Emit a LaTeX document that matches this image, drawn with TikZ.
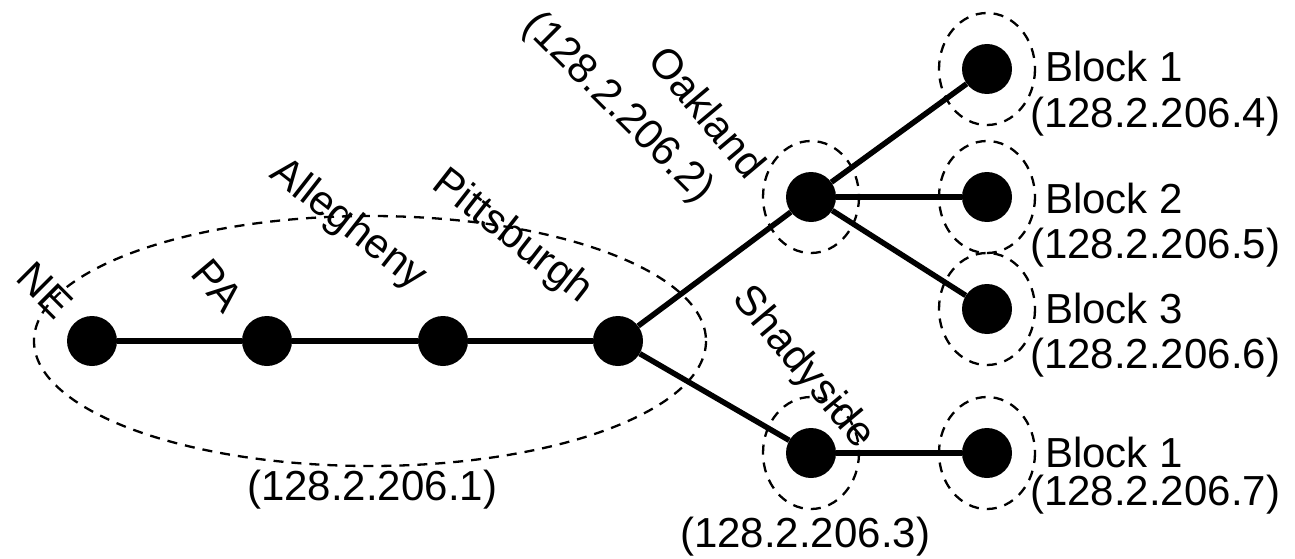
\documentclass[tikz,border=0pt]{standalone}
\usepackage{fontspec}
\setmainfont{Liberation Sans}
\begin{document}
\begin{tikzpicture}[x=1pt,y=-1pt,
  host/.style={circle,fill=black,inner sep=0pt,minimum size=50pt},
  link/.style={line width=5.5pt},
  zone/.style={line width=2.3pt,dash pattern=on 10pt off 8pt},
  lbl/.style={font=\fontsize{42}{48}\selectfont,inner sep=0pt}]
\useasboundingbox (0,0) rectangle (1295,559);

% hosts
\node[host] (ne)    at (92,341)  {};
\node[host] (pa)    at (267,341) {};
\node[host] (alle)  at (443,341) {};
\node[host] (pitt)  at (618,341) {};
\node[host] (oak)   at (811,197) {};
\node[host] (shady) at (811,453) {};
\node[host] (ba)    at (987,69)  {};
\node[host] (bb)    at (987,197) {};
\node[host] (bc)    at (987,309) {};
\node[host] (bd)    at (987,453) {};

% links
\draw[link] (ne) -- (pa) -- (alle) -- (pitt);
\draw[link] (pitt) -- (oak);
\draw[link] (pitt) -- (shady);
\draw[link] (oak) -- (ba);
\draw[link] (oak) -- (bb);
\draw[link] (oak) -- (bc);
\draw[link] (shady) -- (bd);

% address zones
\draw[zone] (370,341) ellipse [x radius=336, y radius=125];
\foreach \h in {oak,shady,ba,bb,bc,bd}
  \draw[zone] (\h) ellipse [x radius=48, y radius=56];

% rotated names
\node[lbl,rotate=-45] (tne)    at (45,290)  {NE};
\node[lbl,rotate=-50] (tpa)    at (218,285) {PA};
\node[lbl,rotate=-38] (talle)  at (348,225) {Allegheny};
\node[lbl,rotate=-38] (tpitt)  at (512,237) {Pittsburgh};
\node[lbl,rotate=-50] (toak)   at (708,112) {Oakland};
\node[lbl,rotate=-45] (toakip) at (618,108) {(128.2.206.2)};
\node[lbl,rotate=-50] (tshady) at (803,368) {Shadyside};

% addresses below
\node[lbl,anchor=base west] (tip1) at (247,500) {(128.2.206.1)};
\node[lbl,anchor=base west] (tip3) at (680,547) {(128.2.206.3)};

% block labels
\node[lbl,anchor=base west] (tba)  at (1045,82)  {Block 1};
\node[lbl,anchor=base west] (tbai) at (1030,128) {(128.2.206.4)};
\node[lbl,anchor=base west] (tbb)  at (1045,213) {Block 2};
\node[lbl,anchor=base west] (tbbi) at (1030,258) {(128.2.206.5)};
\node[lbl,anchor=base west] (tbc)  at (1045,323) {Block 3};
\node[lbl,anchor=base west] (tbci) at (1030,368) {(128.2.206.6)};
\node[lbl,anchor=base west] (tbd)  at (1045,467) {Block 1};
\node[lbl,anchor=base west] (tbdi) at (1030,505) {(128.2.206.7)};
\end{tikzpicture}
\end{document}
